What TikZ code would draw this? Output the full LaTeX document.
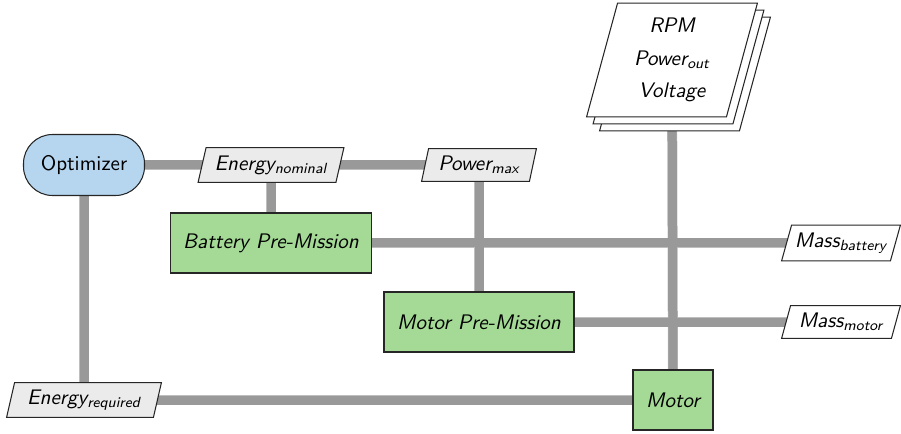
\documentclass[tikz,border=0pt]{standalone}
\usepackage{fontspec}
\pgfdeclarelayer{background}
\pgfdeclarelayer{shapes}
\pgfsetlayers{background,shapes,main}

\definecolor{optblue}{RGB}{182,214,240}
\definecolor{fncgreen}{RGB}{164,218,150}
\definecolor{datgray}{RGB}{235,235,235}
\definecolor{linecore}{RGB}{153,153,153}
\definecolor{lineedge}{RGB}{190,190,190}

% one drawing unit = one pixel of the layout grid
\newcommand{\px}[1]{(#1)*0.475pt}
\newcommand{\subtxt}[1]{\textsubscript{\itshape #1}}

\tikzset{
  boxbase/.style={draw=black!85, line width=0.5pt, inner sep=0pt, font=\sffamily\itshape},
  optbox/.style={boxbase, rectangle, rounded corners=\px{29}, fill=optblue, font=\sffamily},
  fncbox/.style={boxbase, rectangle, fill=fncgreen},
  datbox/.style={rectangle, inner sep=0pt, font=\sffamily\itshape},
  outline/.style={draw=black!85, line width=0.5pt},
  connedge/.style={draw=lineedge, line width=\px{10}},
  conncore/.style={draw=linecore, line width=\px{9}},
}

% parallelogram behind a data node: node, slant, fill, x offset, y offset (px)
\newcommand{\slantbox}[5]{%
  \filldraw[outline, fill=#3]
    ([xshift=\px{#2/2+#4}, yshift=-\px{#5}]#1.north west) --
    ([xshift=\px{#2/2+#4}, yshift=-\px{#5}]#1.north east) --
    ([xshift=\px{-#2/2+#4}, yshift=-\px{#5}]#1.south east) --
    ([xshift=\px{-#2/2+#4}, yshift=-\px{#5}]#1.south west) -- cycle;}

% all data connections, drawn once per layer of the line
\newcommand{\conns}[1]{%
  \draw[#1] (opt.center) -- (pmax.center);
  \draw[#1] (opt.center) -- (ereq.center);
  \draw[#1] (enom.center) -- (bat.center);
  \draw[#1] (pmax.center) -- (mpre.center);
  \draw[#1] (bat.center) -- (mbat.center);
  \draw[#1] (mpre.center) -- (mmot.center);
  \draw[#1] (ereq.center) -- (motor.center);
  \draw[#1] (stack.center) -- (motor.center);
}

\begin{document}
\begin{tikzpicture}[x=0.475pt,y=-0.475pt]
\useasboundingbox (0,0) rectangle (901,434);

% components
\node[optbox, minimum width=\px{121}, minimum height=\px{61}] (opt) at (84,165) {Optimizer};
\node[fncbox, minimum width=\px{201}, minimum height=\px{60}] (bat) at (271,243) {Battery Pre-Mission};
\node[fncbox, minimum width=\px{190}, minimum height=\px{60}] (mpre) at (479,322) {Motor Pre-Mission};
\node[fncbox, minimum width=\px{80}, minimum height=\px{60}] (motor) at (673,400) {Motor};

% variables
\node[datbox, minimum width=\px{137}, minimum height=\px{34}] (enom) at (271,165) {Energy\subtxt{nominal}};
\node[datbox, minimum width=\px{107}, minimum height=\px{32}] (pmax) at (479,165) {Power\subtxt{max}};
\node[datbox, minimum width=\px{146}, minimum height=\px{34}] (ereq) at (84,400) {Energy\subtxt{required}};
\node[datbox, minimum width=\px{108}, minimum height=\px{35}] (mbat) at (841,243) {Mass\subtxt{battery}};
\node[datbox, minimum width=\px{109}, minimum height=\px{32}] (mmot) at (841,322) {Mass\subtxt{motor}};
\node[datbox, minimum width=\px{139}, minimum height=\px{113}, align=center,
      font=\fontsize{10}{15.6}\selectfont\sffamily\itshape]
      (stack) at (672,60) {\raisebox{-3pt}{}RPM\\Power\subtxt{out}\\Voltage};

\begin{pgfonlayer}{shapes}
  \slantbox{enom}{8}{datgray}{0}{0}
  \slantbox{pmax}{7}{datgray}{0}{0}
  \slantbox{ereq}{8}{datgray}{0}{0}
  \slantbox{mbat}{10}{white}{0}{0}
  \slantbox{mmot}{9}{white}{0}{0}
  \slantbox{stack}{31}{white}{13}{14}
  \slantbox{stack}{31}{white}{6.5}{7}
  \slantbox{stack}{31}{white}{0}{0}
\end{pgfonlayer}

\begin{pgfonlayer}{background}
  \conns{connedge}
  \conns{conncore}
\end{pgfonlayer}
\end{tikzpicture}
\end{document}
